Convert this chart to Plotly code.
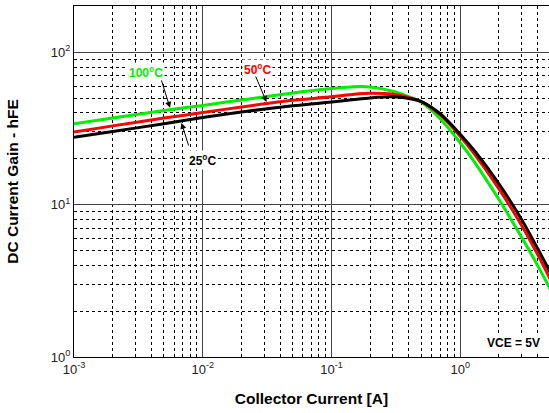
import plotly.graph_objects as go
import math

# ---- data ----
current_a = [0.001, 0.002, 0.005, 0.01, 0.02, 0.05, 0.1, 0.15, 0.2, 0.3, 0.4, 0.5, 0.7, 1.0, 1.3, 2.0, 3.0, 4.0, 5.0]
hfe_25c = [27.7, 30.2, 34.0, 37.3, 40.6, 44.6, 47.2, 49.0, 50.2, 51.0, 49.8, 47.5, 39.5, 29.0, 22.4, 13.7, 8.0, 5.15, 3.6]
hfe_50c = [30.0, 32.9, 37.0, 40.2, 43.8, 48.5, 51.0, 53.0, 53.8, 53.0, 50.5, 47.5, 38.8, 28.1, 21.3, 12.7, 7.3, 4.7, 3.25]
hfe_100c = [33.9, 37.0, 41.5, 44.8, 48.7, 54.0, 57.8, 59.5, 59.3, 55.5, 51.0, 47.0, 36.5, 25.5, 18.9, 10.8, 6.1, 3.98, 2.79]

x_tickvals = [0.001, 0.01, 0.1, 1]
x_ticktext = ["10<sup>-3</sup>", "10<sup>-2</sup>", "10<sup>-1</sup>", "10<sup>0</sup>"]
y_tickvals = [1, 10, 100]
y_ticktext = ["10<sup>0</sup>", "10<sup>1</sup>", "10<sup>2</sup>"]

FONT = "Liberation Sans, Arial, sans-serif"

fig = go.Figure()
for ys, col in [(hfe_100c, "#00ee00"), (hfe_50c, "#ff0000"), (hfe_25c, "#000000")]:
    fig.add_trace(go.Scatter(x=current_a, y=ys, mode="lines",
                             line=dict(color=col, width=3, shape="spline", smoothing=0.8),
                             showlegend=False, hoverinfo="skip"))

def arrow(tip, tail):
    fig.add_annotation(x=math.log10(tip[0]), y=math.log10(tip[1]),
                       ax=math.log10(tail[0]), ay=math.log10(tail[1]),
                       xref="x", yref="y", axref="x", ayref="y",
                       text="", showarrow=True, arrowhead=2, arrowsize=1.2,
                       arrowwidth=1, arrowcolor="black")

def label(pos, text, col):
    fig.add_annotation(x=math.log10(pos[0]), y=math.log10(pos[1]), xref="x", yref="y",
                       text=text, showarrow=False, bgcolor="white", borderpad=1,
                       font=dict(family=FONT, size=12, color=col))

label((0.00362, 74.3), "<b>100<sup>o</sup>C</b>", "#00ee00")
arrow((0.00557, 43.2), (0.00474, 66.9))
label((0.0264, 77.8), "<b>50<sup>o</sup>C</b>", "#ff0000")
arrow((0.0313, 47.2), (0.0255, 71.1))
label((0.0100, 19.7), "<b>25<sup>o</sup>C</b>", "#000000")
arrow((0.00684, 34.4), (0.00783, 23.9))
label((2.58, 1.24), "<b>VCE = 5V</b>", "#000000")

grid_major = dict(showgrid=True, gridcolor="#444444", gridwidth=1)
minor = dict(showgrid=True, gridcolor="#000000", griddash="dot", gridwidth=1, dtick="D1", ticks="")

fig.update_xaxes(type="log", range=[-3, 0.69], tickvals=x_tickvals, ticktext=x_ticktext,
                 minor=minor, **grid_major, showline=True, linecolor="black", linewidth=1,
                 mirror=True, ticks="", zeroline=False,
                 tickfont=dict(family=FONT, size=13, color="#222222"),
                 title=dict(text="<b>Collector Current [A]</b>", standoff=17,
                            font=dict(family=FONT, size=15.5, color="black")))
fig.update_yaxes(type="log", range=[0, 2.304], tickvals=y_tickvals, ticktext=y_ticktext,
                 minor=minor, **grid_major, showline=True, linecolor="black", linewidth=1,
                 mirror=True, ticks="", zeroline=False,
                 tickfont=dict(family=FONT, size=13, color="#222222"),
                 title=dict(text="<b>DC Current Gain - hFE</b>", standoff=28,
                            font=dict(family=FONT, size=15.5, color="black")))

fig.update_layout(width=549, height=413, margin=dict(l=74, r=0, t=6, b=56, autoexpand=False),
                  plot_bgcolor="white", paper_bgcolor="white", showlegend=False)

fig.write_html("out.html", config={"displayModeBar": False},
               post_script="document.body.style.margin='0';document.body.style.overflow='hidden';")
